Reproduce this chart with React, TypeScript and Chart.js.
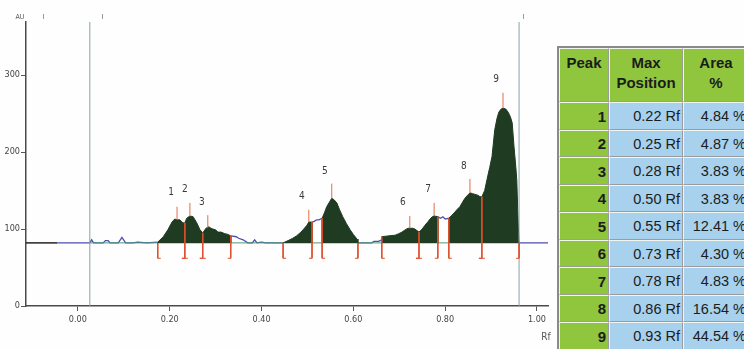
import React, { useEffect, useRef } from 'react';
import { Chart, registerables } from 'chart.js';
Chart.register(...registerables);

// ---------- data ----------
const BASELINE = 82;
const MARK_BOTTOM = 62;
const X_MIN = -0.113;
const X_MAX = 1.024;
const Y_MAX = 369;
const xTickValues = [0, 0.2, 0.4, 0.6, 0.8, 1.0];
const yTickValues = [0, 100, 200, 300];
const startLineRf = 0.026;
const endLineRf = 0.961;
const topMarkRf = [-0.076, 0.052, 0.969];

// filled peak regions (Rf, AU)
const region1Rf = [0.174, 0.174, 0.186, 0.196, 0.205, 0.211, 0.216, 0.222, 0.229, 0.233, 0.237, 0.244, 0.251, 0.259, 0.266, 0.272, 0.279, 0.285, 0.290, 0.294, 0.300, 0.305, 0.312, 0.320, 0.327, 0.333, 0.333];
const region1Au = [82, 83, 90, 99, 109, 113, 112, 112, 108, 108, 114, 117, 116, 108, 99, 95, 101, 103, 101, 100, 99, 96, 96, 94, 93, 91, 82];
const region2Rf = [0.447, 0.458, 0.468, 0.476, 0.484, 0.492, 0.499, 0.503, 0.510, 0.510];
const region2Au = [82, 85, 88, 91, 95, 100, 105, 109, 109, 82];
const region3Rf = [0.532, 0.532, 0.537, 0.542, 0.548, 0.553, 0.558, 0.564, 0.570, 0.577, 0.585, 0.593, 0.600, 0.608, 0.610];
const region3Au = [82, 114, 121, 129, 135, 140, 138, 134, 125, 116, 107, 99, 93, 87, 82];
const region4Rf = [0.662, 0.662, 0.675, 0.691, 0.699, 0.706, 0.713, 0.719, 0.723, 0.729, 0.734, 0.743, 0.750, 0.756, 0.762, 0.767, 0.772, 0.776, 0.784, 0.784];
const region4Au = [82, 90, 91, 92, 94, 96, 99, 101, 101, 101, 100, 96, 100, 105, 109, 113, 116, 117, 116, 82];
const region5Rf = [0.808, 0.808, 0.815, 0.821, 0.827, 0.832, 0.838, 0.843, 0.849, 0.854, 0.860, 0.865, 0.871, 0.876, 0.880, 0.886, 0.891, 0.897, 0.902, 0.908, 0.913, 0.917, 0.922, 0.926, 0.932, 0.937, 0.942, 0.946, 0.950, 0.954, 0.956, 0.959, 0.961];
const region5Au = [82, 114, 118, 122, 126, 129, 135, 140, 144, 147, 146, 145, 144, 142, 142, 150, 164, 180, 194, 229, 244, 252, 256, 257, 256, 252, 246, 238, 207, 180, 164, 108, 82];

// raw signal outside the peaks (blue), segments separated by null
const rawRf = [-0.045, 0.026, 0.030, 0.034, 0.055, 0.060, 0.066, 0.070, 0.088, 0.096, 0.104, 0.120, 0.130, 0.150, 0.174, null,
  0.333, 0.345, 0.350, 0.360, 0.370, 0.380, 0.385, 0.390, 0.400, 0.410, 0.447, null,
  0.510, 0.515, 0.520, 0.525, 0.532, null,
  0.610, 0.640, 0.645, 0.655, 0.662, null,
  0.784, 0.790, 0.795, 0.800, 0.808, null,
  0.961, 1.024];
const rawAu = [82, 82, 86, 82, 82, 85, 85, 82, 82, 89, 82, 82, 83, 82, 83, null,
  91, 90, 88, 86, 82, 82, 86, 82, 83, 82, 82, null,
  109, 110, 112, 112, 114, null,
  82, 82, 84, 84, 86, null,
  116, 114, 116, 113, 114, null,
  82, 82];

// integration boundaries: s = start, m = between peaks, e = end
const boundaryRf = [0.174, 0.233, 0.272, 0.333, 0.447, 0.510, 0.532, 0.610, 0.662, 0.743, 0.784, 0.808, 0.880, 0.961];
const boundaryAu = [82, 108, 95, 91, 82, 109, 114, 82, 90, 96, 116, 114, 142, 82];
const boundaryKind = ['s', 'm', 'm', 'e', 's', 'e', 's', 'e', 's', 'm', 'e', 's', 'm', 'e'];

// peak maxima markers and labels
const peakNames = ['1', '2', '3', '4', '5', '6', '7', '8', '9'];
const peakRf = [0.216, 0.244, 0.283, 0.503, 0.553, 0.723, 0.776, 0.854, 0.926];
const peakAu = [112, 118, 101, 109, 140, 101, 117, 147, 257];
const peakTipAu = [129, 134, 118, 125, 159, 117, 134, 165, 277];
const labelRf = [0.203, 0.233, 0.270, 0.488, 0.538, 0.708, 0.763, 0.841, 0.911];
const labelAu = [147, 152, 135, 142, 175, 134, 152, 181, 294];

// table
const tablePeaks = ['1', '2', '3', '4', '5', '6', '7', '8', '9'];
const tableMaxPos = ['0.22 Rf', '0.25 Rf', '0.28 Rf', '0.50 Rf', '0.55 Rf', '0.73 Rf', '0.78 Rf', '0.86 Rf', '0.93 Rf'];
const tableArea = ['4.84 %', '4.87 %', '3.83 %', '3.83 %', '12.41 %', '4.30 %', '4.83 %', '16.54 %', '44.54 %'];

// ---------- helpers ----------
const pts = (xs: (number | null)[], ys: (number | null)[]) =>
  xs.map((x, i) => (x === null ? { x: (xs[i - 1] as number) ?? 0, y: null } : { x, y: ys[i] }));

const FOOT = 0.0065;
function boundaryPoints() {
  const out: any[] = [];
  boundaryRf.forEach((x, i) => {
    out.push({ x, y: boundaryAu[i] }, { x, y: MARK_BOTTOM });
    const k = boundaryKind[i];
    if (k === 's') out.push({ x: x + FOOT, y: MARK_BOTTOM });
    else if (k === 'e') out.push({ x: x - FOOT, y: MARK_BOTTOM });
    else out.push({ x: x - FOOT, y: MARK_BOTTOM }, { x: x + FOOT, y: MARK_BOTTOM });
    out.push({ x, y: null });
  });
  return out;
}
function peakPoints() {
  const out: any[] = [];
  peakRf.forEach((x, i) => {
    out.push({ x, y: peakAu[i] }, { x, y: peakTipAu[i] }, { x, y: null });
  });
  return out;
}

const NARROW = '"Liberation Sans Narrow", "DejaVu Sans Condensed", "Arial Narrow", "Liberation Sans", sans-serif';

const annotPlugin = {
  id: 'annot',
  afterDatasetsDraw(chart: any) {
    const { ctx, scales } = chart;
    const x = scales.x, y = scales.y;
    ctx.save();
    ctx.fillStyle = '#3a3a3a';
    ctx.font = '10px ' + NARROW;
    ctx.textAlign = 'center';
    ctx.textBaseline = 'middle';
    peakNames.forEach((t, i) => ctx.fillText(t, x.getPixelForValue(labelRf[i]), y.getPixelForValue(labelAu[i])));
    // axis titles
    ctx.font = '7px ' + NARROW;
    ctx.fillStyle = '#555';
    ctx.fillText('AU', chart.chartArea.left - 6, chart.chartArea.top - 5);
    ctx.font = '10px ' + NARROW;
    ctx.fillText('Rf', chart.chartArea.right - 2, chart.chartArea.bottom + 31);
    // small marks at top
    ctx.strokeStyle = '#9a9a9a';
    ctx.lineWidth = 1;
    topMarkRf.forEach((v) => {
      const px = Math.round(x.getPixelForValue(v)) + 0.5;
      ctx.beginPath();
      ctx.moveTo(px, chart.chartArea.top - 8);
      ctx.lineTo(px, chart.chartArea.top - 3);
      ctx.stroke();
    });
    ctx.restore();
  },
};

function ChartView() {
  const ref = useRef<HTMLCanvasElement>(null);
  useEffect(() => {
    if (!ref.current) return;
    const fillDs = (xs: number[], ys: number[]) => ({
      type: 'line' as const,
      data: pts(xs, ys),
      borderColor: '#1f3b21',
      borderWidth: 1,
      backgroundColor: '#1f3b21',
      fill: { value: BASELINE },
      pointRadius: 0,
      tension: 0,
      order: 5,
    });
    const chart = new Chart(ref.current, {
      type: 'line',
      data: {
        datasets: [
          {
            data: pts([X_MIN, -0.045], [BASELINE, BASELINE]),
            borderColor: '#222',
            borderWidth: 1.5,
            pointRadius: 0,
            order: 9,
          },
          {
            data: pts(rawRf, rawAu),
            borderColor: '#4b4fb0',
            borderWidth: 1.3,
            pointRadius: 0,
            spanGaps: false,
            order: 9,
          },
          {
            data: pts([startLineRf, endLineRf], [BASELINE, BASELINE]),
            borderColor: '#4c9a78',
            borderWidth: 1,
            pointRadius: 0,
            order: 8,
          },
          fillDs(region1Rf, region1Au),
          fillDs(region2Rf, region2Au),
          fillDs(region3Rf, region3Au),
          fillDs(region4Rf, region4Au),
          fillDs(region5Rf, region5Au),
          {
            data: [{ x: startLineRf, y: 0 }, { x: startLineRf, y: Y_MAX }, { x: startLineRf, y: null }, { x: endLineRf, y: 0 }, { x: endLineRf, y: Y_MAX }],
            borderColor: '#86a4a6',
            borderWidth: 1,
            pointRadius: 0,
            spanGaps: false,
            order: 3,
          },
          {
            data: boundaryPoints(),
            borderColor: '#de4f2c',
            borderWidth: 1,
            pointRadius: 0,
            spanGaps: false,
            order: 1,
          },
          {
            data: peakPoints(),
            borderColor: '#e66c48',
            borderWidth: 1,
            pointRadius: 0,
            spanGaps: false,
            order: 1,
          },
        ] as any,
      },
      options: {
        animation: false,
        responsive: false,
        events: [],
        layout: { padding: { top: 22, right: 8, left: 0, bottom: 0 } },
        plugins: { legend: { display: false }, tooltip: { enabled: false } },
        scales: {
          x: {
            type: 'linear',
            min: X_MIN,
            max: X_MAX,
            afterBuildTicks: (s: any) => { s.ticks = xTickValues.map((v) => ({ value: v })); },
            afterFit: (s: any) => { s.height = 43; },
            grid: { drawOnChartArea: false, drawTicks: true, tickLength: 5, color: '#555' },
            border: { display: true, color: '#4a4a4a', width: 1.5 },
            ticks: {
              padding: 3,
              color: '#444',
              font: { size: 9, family: NARROW },
              maxRotation: 0,
              callback: (v: any) => Number(v).toFixed(2),
            },
          },
          y: {
            type: 'linear',
            min: 0,
            max: Y_MAX,
            afterBuildTicks: (s: any) => { s.ticks = yTickValues.map((v) => ({ value: v })); },
            afterFit: (s: any) => { s.width = 26; },
            grid: { drawOnChartArea: false, drawTicks: true, tickLength: 5, color: '#555' },
            border: { display: true, color: '#4a4a4a', width: 1.5 },
            ticks: { padding: 1, color: '#444', font: { size: 9, family: NARROW } },
          },
        },
      },
      plugins: [annotPlugin],
    } as any);
    return () => chart.destroy();
  }, []);
  return <canvas ref={ref} width={556} height={349} style={{ position: 'absolute', left: 0, top: 0, width: 556, height: 349 }} />;
}

const GREEN = '#8fc63e';
const BLUE = '#a7d1ec';
const cellBase: React.CSSProperties = {
  boxSizing: 'border-box',
  borderTop: '1px solid #f2f5ee',
  borderLeft: '1px solid #f2f5ee',
  borderRight: '1px solid #9c9c9c',
  borderBottom: '1px solid #9c9c9c',
  padding: '0 2px',
  whiteSpace: 'nowrap',
};

function PeakTable() {
  const rowHeights = [28, 27, 28, 27, 28, 27, 28, 27, 28];
  const head: React.CSSProperties = {
    ...cellBase,
    background: GREEN,
    fontWeight: 'bold',
    fontSize: 15,
    lineHeight: '20px',
    verticalAlign: 'top',
    textAlign: 'center',
    paddingTop: 4,
    height: 54,
  };
  return (
    <table
      style={{
        position: 'absolute',
        left: 557,
        top: 46,
        borderCollapse: 'separate',
        borderSpacing: 0,
        borderTop: '2px solid #8a8a8a',
        borderLeft: '2px solid #8a8a8a',
        tableLayout: 'fixed',
        width: 192,
        fontFamily: '"Liberation Sans", Arial, sans-serif',
        color: '#1c1c1c',
      }}
    >
      <colgroup>
        <col style={{ width: 50 }} />
        <col style={{ width: 74 }} />
        <col style={{ width: 66 }} />
      </colgroup>
      <tbody>
        <tr>
          <td style={head}>Peak</td>
          <td style={head}>Max<br />Position</td>
          <td style={head}>Area<br />%</td>
        </tr>
        {tablePeaks.map((p, i) => (
          <tr key={p}>
            <td style={{ ...cellBase, height: rowHeights[i], background: GREEN, textAlign: 'right', fontWeight: 'bold', fontSize: 15 }}>{p}</td>
            <td style={{ ...cellBase, height: rowHeights[i], background: BLUE, textAlign: 'right', fontSize: 14.5 }}>{tableMaxPos[i]}</td>
            <td style={{ ...cellBase, height: rowHeights[i], background: BLUE, textAlign: 'right', fontSize: 14.5 }}>{tableArea[i]}</td>
          </tr>
        ))}
      </tbody>
    </table>
  );
}

export default function App() {
  return (
    <div style={{ position: 'fixed', left: 0, top: 0, width: 744, height: 349, overflow: 'hidden', background: '#fefefe' }}>
      <ChartView />
      <PeakTable />
    </div>
  );
}
